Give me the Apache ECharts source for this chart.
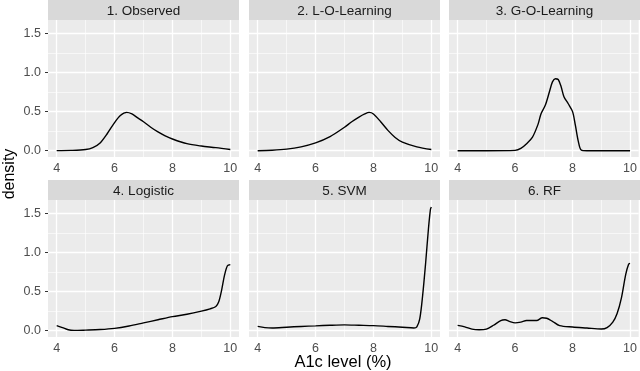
<!DOCTYPE html>
<html>
<head>
<meta charset="utf-8">
<script src="https://cdn.jsdelivr.net/npm/echarts@6/dist/echarts.min.js"></script>
<style>html,body{margin:0;padding:0;background:#fff;}#c{width:640px;height:371px;}</style>
</head>
<body>
<div id="c"></div>
<script>
// ---- data ----
const panelTitles = ['1. Observed', '2. L-O-Learning', '3. G-O-Learning', '4. Logistic', '5. SVM', '6. RF'];
const xTicks = [4, 6, 8, 10];
const xMinor = [5, 7, 9];
const yTicks = [0, 0.5, 1.0, 1.5];
const yMinor = [0.25, 0.75, 1.25];

const observedX = [4, 4.5, 5, 5.25, 5.5, 5.75, 6, 6.2, 6.42, 6.6, 6.8, 7, 7.25, 7.5, 7.75, 8, 8.5, 9, 9.5, 10];
const observedY = [0.002, 0.004, 0.015, 0.04, 0.1, 0.22, 0.36, 0.45, 0.49, 0.47, 0.42, 0.37, 0.3, 0.24, 0.19, 0.15, 0.09, 0.06, 0.04, 0.015];

const loLearnX = [4, 4.5, 5, 5.5, 6, 6.5, 7, 7.25, 7.5, 7.7, 7.85, 8, 8.25, 8.5, 8.75, 9, 9.5, 10];
const loLearnY = [0.0, 0.006, 0.02, 0.05, 0.1, 0.18, 0.3, 0.37, 0.43, 0.47, 0.49, 0.47, 0.37, 0.26, 0.17, 0.11, 0.05, 0.015];

const goLearnX = [4, 5, 6, 6.2, 6.4, 6.6, 6.8, 6.9, 7.05, 7.2, 7.3, 7.4, 7.5, 7.6, 7.7, 7.85, 8.0, 8.1, 8.2, 8.3, 8.5, 9, 10];
const goLearnY = [0, 0, 0.005, 0.03, 0.09, 0.17, 0.34, 0.47, 0.58, 0.76, 0.88, 0.92, 0.91, 0.82, 0.69, 0.6, 0.5, 0.32, 0.12, 0.01, 0, 0, 0];

const logisticX = [4, 4.2, 4.4, 4.6, 5, 5.5, 6, 6.5, 7, 7.5, 8, 8.5, 9, 9.3, 9.5, 9.6, 9.7, 9.8, 9.9, 10];
const logisticY = [0.065, 0.04, 0.012, 0.004, 0.008, 0.015, 0.03, 0.06, 0.1, 0.14, 0.18, 0.21, 0.25, 0.28, 0.31, 0.37, 0.52, 0.71, 0.83, 0.845];

const svmX = [4, 4.25, 4.5, 5, 5.5, 6, 6.5, 7, 7.5, 8, 8.5, 9, 9.4, 9.5, 9.6, 9.7, 9.8, 9.9, 9.97, 10];
const svmY = [0.055, 0.04, 0.035, 0.045, 0.055, 0.062, 0.07, 0.075, 0.07, 0.065, 0.055, 0.045, 0.035, 0.05, 0.15, 0.45, 0.85, 1.3, 1.55, 1.58];

const rfX = [4, 4.25, 4.5, 4.75, 5, 5.25, 5.5, 5.65, 5.8, 6, 6.2, 6.4, 6.75, 6.95, 7.1, 7.3, 7.55, 8, 8.5, 9, 9.2, 9.4, 9.55, 9.7, 9.85, 9.95, 10];
const rfY = [0.068, 0.05, 0.02, 0.012, 0.02, 0.07, 0.13, 0.14, 0.12, 0.1, 0.11, 0.13, 0.13, 0.165, 0.16, 0.12, 0.065, 0.048, 0.035, 0.022, 0.04, 0.11, 0.22, 0.42, 0.72, 0.85, 0.86];

const panelX = [observedX, loLearnX, goLearnX, logisticX, svmX, rfX];
const panelY = [observedY, loLearnY, goLearnY, logisticY, svmY, rfY];

// ---- layout ----
const colLeft = [48, 249, 449];
const panelW = 191;
const rowTop = [20, 200];
const panelH = 137;
const stripH = 20;
const FONT = 'Liberation Sans, Arial, sans-serif';

const grids = [], xAxes = [], yAxes = [], series = [], graphics = [];

for (let i = 0; i < 6; i++) {
  const col = i % 3, row = Math.floor(i / 3);
  const left = colLeft[col], top = rowTop[row];
  grids.push({left: left, top: top, width: panelW, height: panelH, show: true,
    backgroundColor: '#EBEBEB', borderWidth: 0, containLabel: false});
  xAxes.push({gridIndex: i, type: 'value', min: 3.7, max: 10.3,
    axisLine: {show: false},
    axisTick: {show: true, length: 3, customValues: xTicks, lineStyle: {color: '#333333', width: 1}},
    axisLabel: {show: true, customValues: xTicks, margin: 5, color: '#4D4D4D', fontSize: 12.5, fontFamily: FONT,
      formatter: v => String(v)},
    splitLine: {show: false}, minorSplitLine: {show: false}});
  yAxes.push({gridIndex: i, type: 'value', min: -0.08, max: 1.67,
    axisLine: {show: false},
    axisTick: {show: col === 0, length: 3, customValues: yTicks, lineStyle: {color: '#333333', width: 1}},
    axisLabel: {show: col === 0, customValues: yTicks, margin: 7, color: '#4D4D4D', fontSize: 12.5, fontFamily: FONT,
      formatter: v => Number(v).toFixed(1)},
    splitLine: {show: false}});

  const ml = [];
  xMinor.forEach(v => ml.push({xAxis: v, lineStyle: {color: '#FFFFFF', width: 0.6, type: 'solid'}}));
  yMinor.forEach(v => ml.push({yAxis: v, lineStyle: {color: '#FFFFFF', width: 0.6, type: 'solid'}}));
  xTicks.forEach(v => ml.push({xAxis: v, lineStyle: {color: '#FFFFFF', width: 1.3, type: 'solid'}}));
  yTicks.forEach(v => ml.push({yAxis: v, lineStyle: {color: '#FFFFFF', width: 1.3, type: 'solid'}}));
  series.push({type: 'line', xAxisIndex: i, yAxisIndex: i, data: [], z: 1, silent: true,
    markLine: {silent: true, symbol: ['none', 'none'], label: {show: false}, animation: false, data: ml}});

  series.push({type: 'line', name: panelTitles[i], xAxisIndex: i, yAxisIndex: i, z: 5,
    data: panelX[i].map((x, j) => [x, panelY[i][j]]),
    showSymbol: false, smooth: 0.3, animation: false,
    lineStyle: {color: '#000000', width: 1.4}});

  // facet strip
  graphics.push({type: 'rect', left: left, top: top - stripH, z: 1,
    shape: {width: panelW, height: stripH}, style: {fill: '#D9D9D9'}});
  graphics.push({type: 'text', x: left + panelW / 2, y: top - stripH / 2 + 1.5, z: 2,
    style: {text: panelTitles[i], fill: '#1A1A1A', font: '13.5px ' + FONT, align: 'center', verticalAlign: 'middle'}});
}

graphics.push({type: 'text', x: 343, y: 362,
  style: {text: 'A1c level (%)', fill: '#000000', font: '16.5px ' + FONT, align: 'center', verticalAlign: 'middle'}});
graphics.push({type: 'text', x: 10, y: 174, rotation: Math.PI / 2,
  style: {text: 'density', fill: '#000000', font: '16px ' + FONT, align: 'center', verticalAlign: 'middle'}});

const chart = echarts.init(document.getElementById('c'), null, {renderer: 'canvas'});
chart.setOption({
  backgroundColor: '#FFFFFF',
  animation: false,
  grid: grids, xAxis: xAxes, yAxis: yAxes, series: series, graphic: graphics
});
</script>
</body>
</html>
